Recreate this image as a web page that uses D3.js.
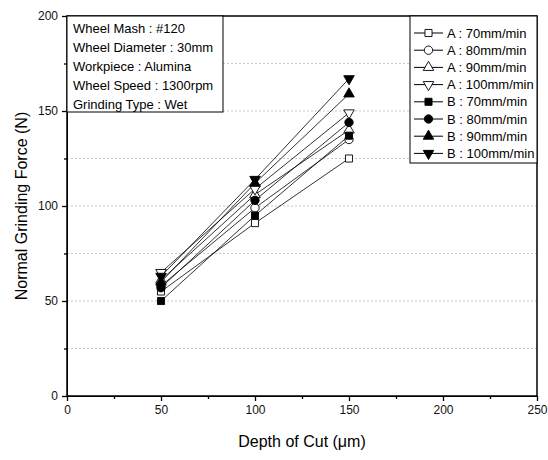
<!DOCTYPE html>
<html>
<head>
<meta charset="utf-8">
<script src="https://cdn.jsdelivr.net/npm/d3@7/dist/d3.min.js"></script>
<style>
  body { margin: 0; background: #fff; }
  text { font-family: "Liberation Sans", Arial, sans-serif; }
</style>
</head>
<body>
<svg id="chart" width="548" height="460"></svg>
<script>
const depths = [50, 100, 150];
const seriesNames = [
  "A : 70mm/min", "A : 80mm/min", "A : 90mm/min", "A : 100mm/min",
  "B : 70mm/min", "B : 80mm/min", "B : 90mm/min", "B : 100mm/min"
];
const a70 = [55, 91, 125];
const a80 = [58, 99, 135];
const a90 = [61, 106, 140];
const a100 = [65, 109, 149];
const b70 = [50, 95, 137];
const b80 = [57, 103, 144];
const b90 = [60, 112, 159];
const b100 = [63, 114, 167];
const xTicks = [0, 50, 100, 150, 200, 250];
const yTicks = [0, 50, 100, 150, 200];
const infoLines = [
  "Wheel Mash : #120",
  "Wheel Diameter : 30mm",
  "Workpiece : Alumina",
  "Wheel Speed : 1300rpm",
  "Grinding Type : Wet"
];

const allValues = [a70, a80, a90, a100, b70, b80, b90, b100];
// marker shape + fill for each series
const markers = [
  { type: d3.symbolSquare, fill: "#fff", rot: 0 },
  { type: d3.symbolCircle, fill: "#fff", rot: 0 },
  { type: d3.symbolTriangle, fill: "#fff", rot: 0 },
  { type: d3.symbolTriangle, fill: "#fff", rot: 180 },
  { type: d3.symbolSquare, fill: "#000", rot: 0 },
  { type: d3.symbolCircle, fill: "#000", rot: 0 },
  { type: d3.symbolTriangle, fill: "#000", rot: 0 },
  { type: d3.symbolTriangle, fill: "#000", rot: 180 }
];

const plotLeft = 67, plotRight = 537, plotTop = 16, plotBottom = 396;

const svg = d3.select("#chart");

const x = d3.scaleLinear().domain([0, 250]).range([plotLeft, plotRight]);
const y = d3.scaleLinear().domain([0, 200]).range([plotBottom, plotTop]);

// dashed grid every 25
svg.append("g")
  .selectAll("line")
  .data(d3.range(25, 200, 25))
  .join("line")
  .attr("x1", plotLeft).attr("x2", plotRight)
  .attr("y1", (d) => y(d)).attr("y2", (d) => y(d))
  .attr("stroke", "#c8c8c8")
  .attr("stroke-dasharray", "2,2");

// axes
svg.append("g")
  .attr("transform", `translate(0, ${plotBottom})`)
  .call(d3.axisBottom(x).tickValues(xTicks).tickSize(5).tickSizeOuter(0).tickPadding(4));
svg.append("g")
  .attr("transform", `translate(0, ${plotBottom})`)
  .call(d3.axisBottom(x).tickValues(d3.range(25, 250, 50)).tickSize(3).tickFormat(""))
  .call((g) => g.select(".domain").remove());

svg.append("g")
  .attr("transform", `translate(${plotLeft}, 0)`)
  .call(d3.axisLeft(y).tickValues(yTicks).tickSize(5).tickSizeOuter(0).tickPadding(4));
svg.append("g")
  .attr("transform", `translate(${plotLeft}, 0)`)
  .call(d3.axisLeft(y).tickValues(d3.range(25, 200, 50)).tickSize(3).tickFormat(""))
  .call((g) => g.select(".domain").remove());

svg.selectAll(".tick text")
  .attr("font-size", 12)
  .attr("font-family", "Liberation Sans, Arial, sans-serif")
  .attr("fill", "#111");
svg.selectAll(".tick line").attr("stroke-width", 1.3);

// frame
svg.append("rect")
  .attr("x", plotLeft).attr("y", plotTop)
  .attr("width", plotRight - plotLeft).attr("height", plotBottom - plotTop)
  .attr("fill", "none")
  .attr("stroke", "#000")
  .attr("stroke-width", 1.5);

// lines + markers
let line = d3.line()
  .x((d, i) => x(depths[i]))
  .y((d) => y(d));

allValues.forEach((vals) => {
  svg.append("path")
    .datum(vals)
    .attr("d", line)
    .attr("fill", "none")
    .attr("stroke", "#000")
    .attr("stroke-width", 0.8);
});

function drawMarker(g, m, cx, cy) {
  let size = m.type === d3.symbolCircle ? 55 : (m.type === d3.symbolSquare ? 50 : 48);
  g.append("path")
    .attr("d", d3.symbol().type(m.type).size(size))
    .attr("transform", `translate(${cx}, ${cy}) rotate(${m.rot})`)
    .attr("fill", m.fill)
    .attr("stroke", "#000")
    .attr("stroke-width", 0.9);
}

allValues.forEach((vals, s) => {
  vals.forEach((v, i) => drawMarker(svg, markers[s], x(depths[i]), y(v)));
});

// info box
let info = svg.append("g");
info.append("rect")
  .attr("x", plotLeft).attr("y", plotTop)
  .attr("width", 156).attr("height", 96)
  .attr("fill", "#fff")
  .attr("stroke", "#000")
  .attr("stroke-width", 1);
info.selectAll("text")
  .data(infoLines)
  .join("text")
  .attr("x", plotLeft + 6)
  .attr("y", (d, i) => plotTop + 17 + i * 19)
  .attr("font-size", 13)
  .text((d) => d);

// legend
let legend = svg.append("g");
legend.append("rect")
  .attr("x", 410).attr("y", plotTop)
  .attr("width", plotRight - 410).attr("height", 147)
  .attr("fill", "#fff")
  .attr("stroke", "#000")
  .attr("stroke-width", 1);
seriesNames.forEach((name, s) => {
  let ly = 33 + s * 17.2;
  legend.append("line")
    .attr("x1", 414).attr("x2", 443)
    .attr("y1", ly).attr("y2", ly)
    .attr("stroke", "#000").attr("stroke-width", 1);
  drawMarker(legend, markers[s], 428.5, ly);
  legend.append("text")
    .attr("x", 447).attr("y", ly + 4.5)
    .attr("font-size", 13)
    .text(name);
});

// axis titles
svg.append("text")
  .attr("x", (plotLeft + plotRight) / 2)
  .attr("y", 447)
  .attr("text-anchor", "middle")
  .attr("font-size", 16)
  .text("Depth of Cut (\u03bcm)");

svg.append("text")
  .attr("transform", `translate(27, ${(plotTop + plotBottom) / 2}) rotate(-90)`)
  .attr("text-anchor", "middle")
  .attr("font-size", 16)
  .text("Normal Grinding Force (N)");
</script>
</body>
</html>
